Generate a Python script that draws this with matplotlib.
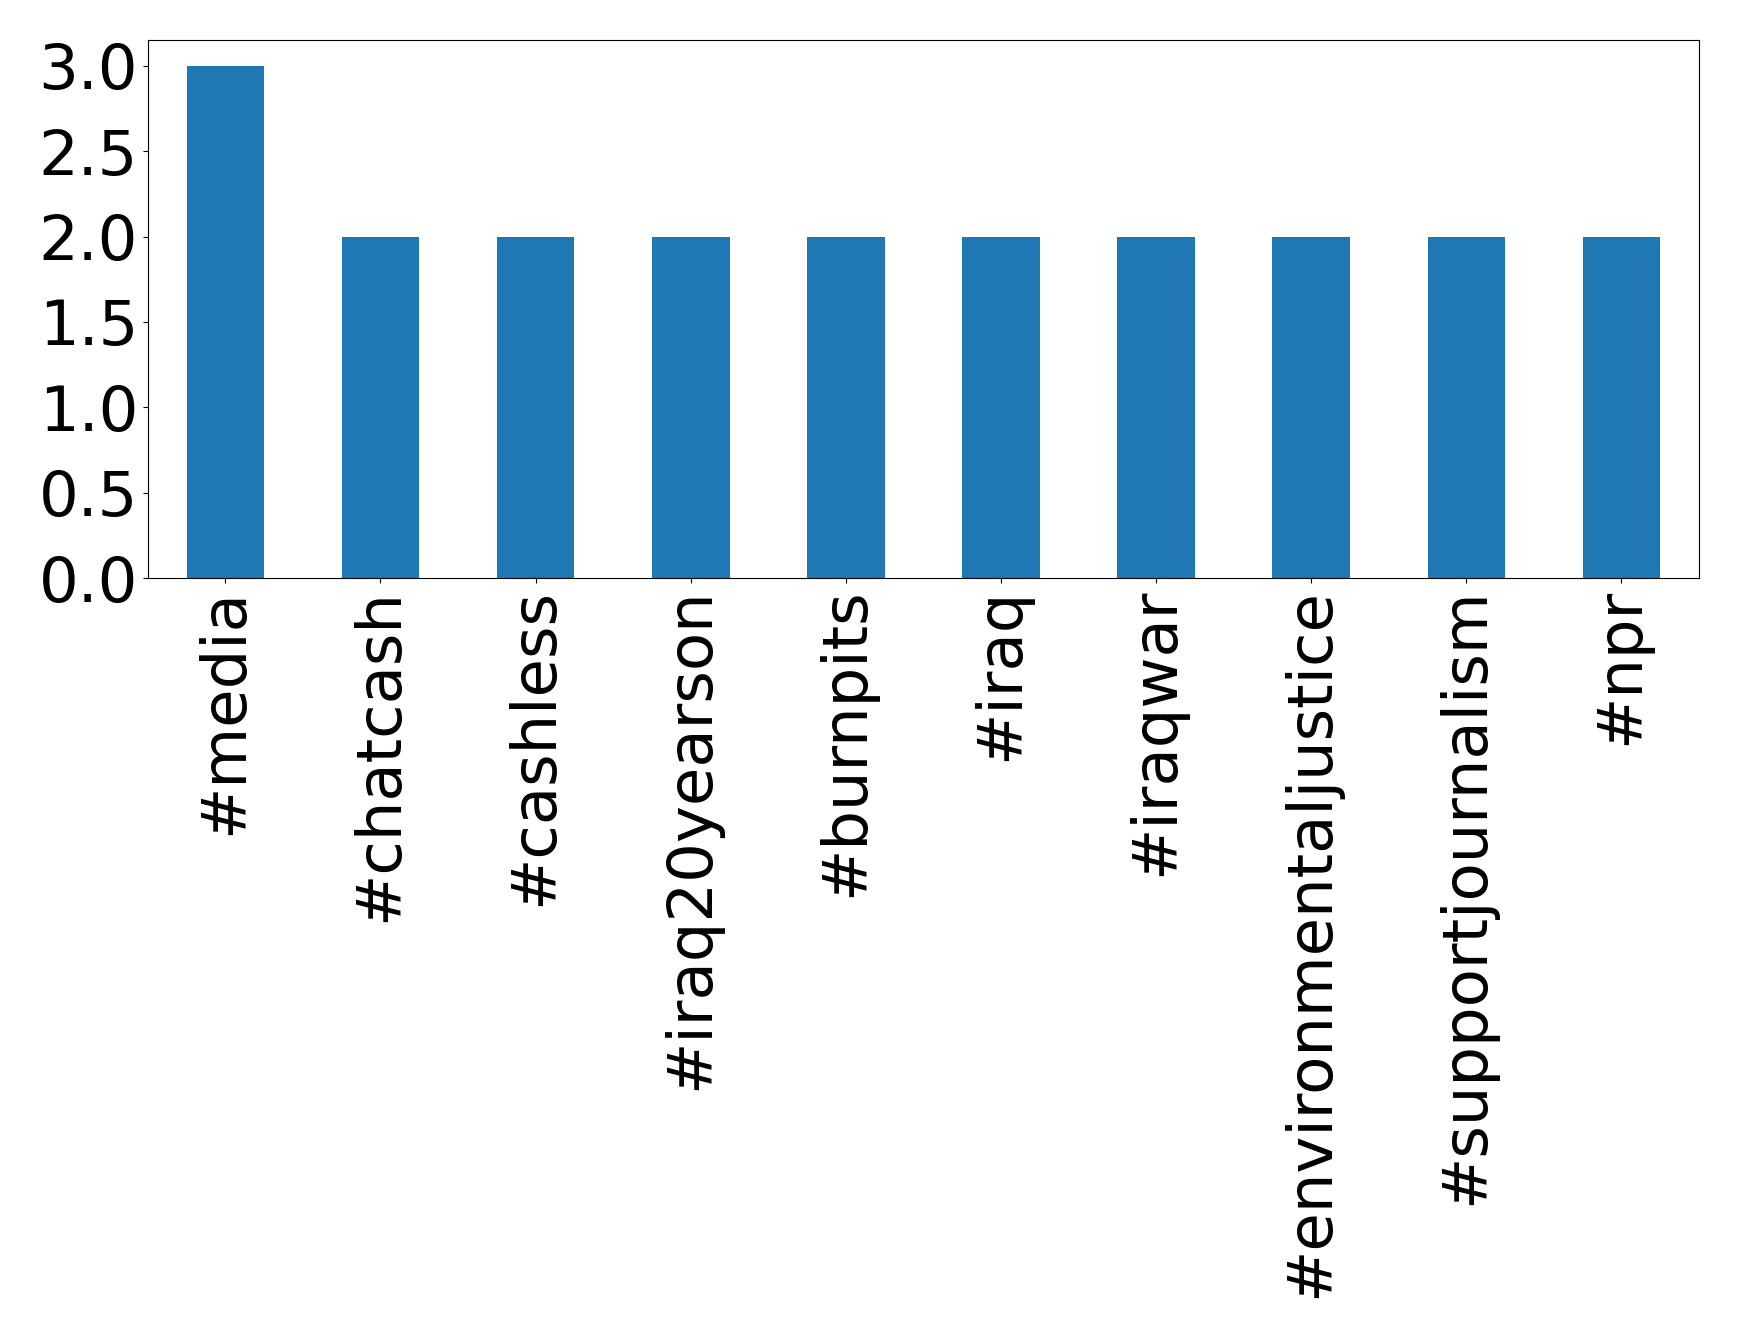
import matplotlib
matplotlib.use('Agg')
import matplotlib.pyplot as plt
import pandas as pd

hashtags = ['#media', '#chatcash', '#cashless', '#iraq20yearson', '#burnpits',
            '#iraq', '#iraqwar', '#environmentaljustice', '#supportjournalism', '#npr']
counts = [3.0, 2.0, 2.0, 2.0, 2.0, 2.0, 2.0, 2.0, 2.0, 2.0]
yticks = [0.0, 0.5, 1.0, 1.5, 2.0, 2.5, 3.0]

s = pd.Series(counts, index=hashtags)

fig, ax = plt.subplots(figsize=(17.39, 13.38), dpi=100)
s.plot(kind='bar', ax=ax, color='#1f77b4')
ax.set_yticks(yticks)
ax.set_yticklabels(['%.1f' % t for t in yticks])
ax.tick_params(axis='both', labelsize=45)
plt.xticks(rotation=90)
fig.subplots_adjust(left=0.085, right=0.977, top=0.970, bottom=0.568)
fig.savefig('out.png', dpi=100)
